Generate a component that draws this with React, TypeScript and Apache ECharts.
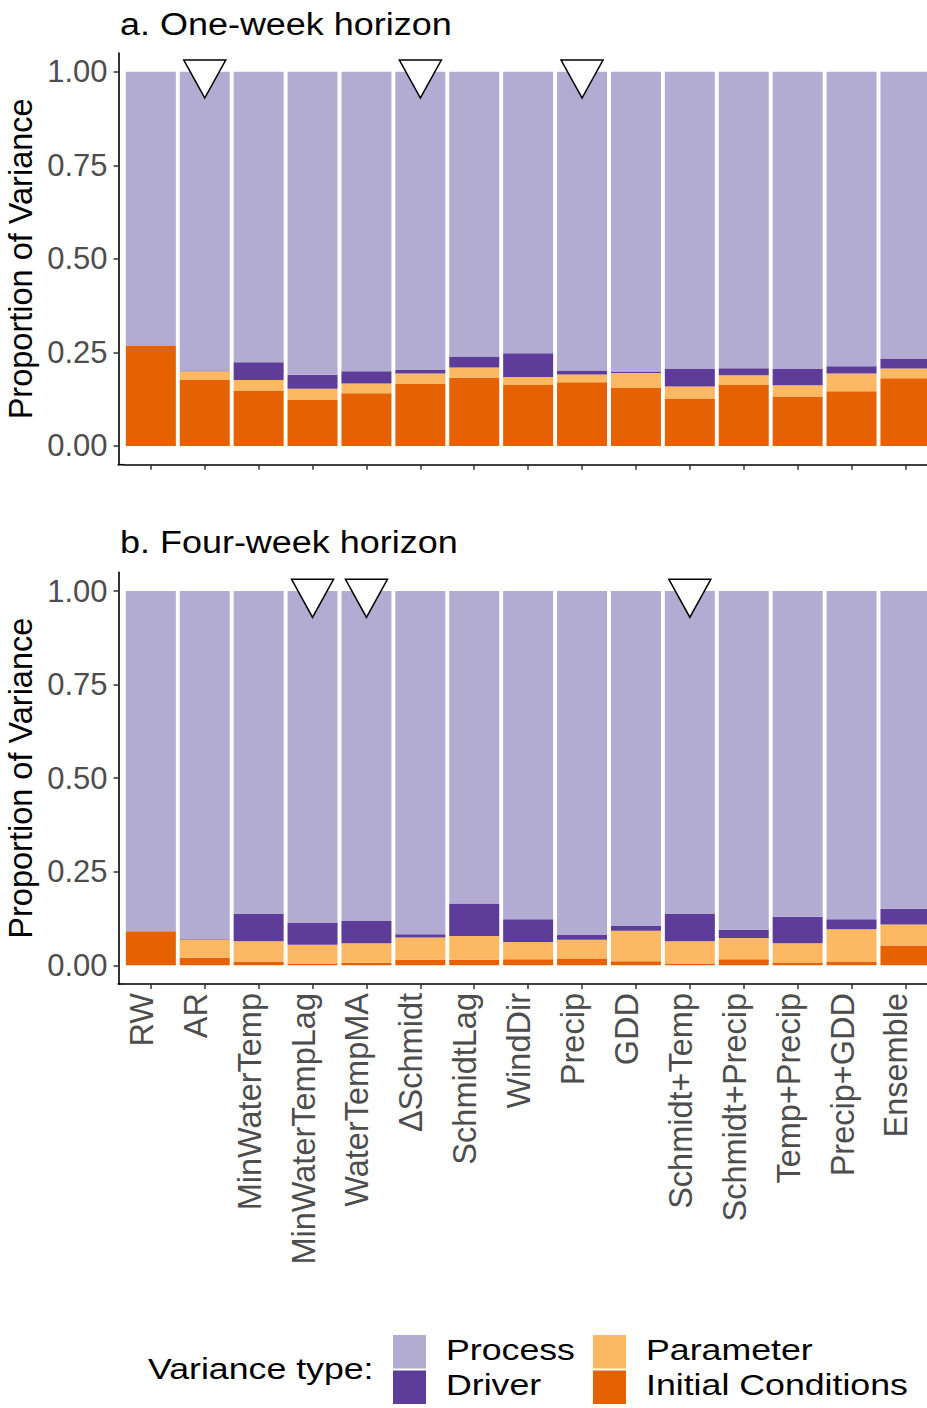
import React, { useEffect, useRef } from "react";
import * as echarts from "echarts";

const categories = [
  "RW", "AR", "MinWaterTemp", "MinWaterTempLag", "WaterTempMA", "ΔSchmidt", "SchmidtLag",
  "WindDir", "Precip", "GDD", "Schmidt+Temp", "Schmidt+Precip", "Temp+Precip", "Precip+GDD", "Ensemble",
];

// Panel a: one-week horizon
const icWeek1 = [0.267, 0.176, 0.148, 0.123, 0.141, 0.167, 0.182, 0.163, 0.170, 0.155, 0.127, 0.163, 0.132, 0.146, 0.181];
const paramWeek1 = [0, 0.024, 0.028, 0.030, 0.026, 0.027, 0.028, 0.021, 0.021, 0.040, 0.032, 0.026, 0.030, 0.048, 0.026];
const driverWeek1 = [0, 0.002, 0.048, 0.037, 0.033, 0.009, 0.029, 0.064, 0.011, 0.004, 0.047, 0.019, 0.044, 0.019, 0.027];
const processWeek1 = [0.733, 0.798, 0.776, 0.810, 0.800, 0.797, 0.761, 0.752, 0.798, 0.801, 0.794, 0.792, 0.794, 0.787, 0.766];
const bestWeek1 = ["AR", "ΔSchmidt", "Precip"];

// Panel b: four-week horizon
const icWeek4 = [0.091, 0.020, 0.009, 0.005, 0.007, 0.015, 0.015, 0.016, 0.018, 0.011, 0.005, 0.016, 0.006, 0.010, 0.053];
const paramWeek4 = [0, 0.049, 0.055, 0.050, 0.052, 0.059, 0.063, 0.046, 0.050, 0.081, 0.059, 0.057, 0.053, 0.086, 0.056];
const driverWeek4 = [0, 0.001, 0.073, 0.058, 0.059, 0.009, 0.087, 0.061, 0.013, 0.013, 0.073, 0.022, 0.071, 0.027, 0.042];
const processWeek4 = [0.909, 0.930, 0.863, 0.887, 0.882, 0.917, 0.835, 0.877, 0.919, 0.895, 0.863, 0.905, 0.870, 0.877, 0.849];
const bestWeek4 = ["MinWaterTempLag", "WaterTempMA", "Schmidt+Temp"];

const yTicks = [0, 0.25, 0.5, 0.75, 1];
const panelTitles = ["a. One-week horizon", "b. Four-week horizon"];
const varianceTypes = ["Process", "Driver", "Parameter", "Initial Conditions"];
const varianceColors = ["#b2abd2", "#5e3c99", "#fdb863", "#e66101"];

const FONT = '"Liberation Sans", Arial, Helvetica, sans-serif';

export default function App() {
  const ref = useRef<HTMLDivElement>(null);

  useEffect(() => {
    document.body.style.margin = "0";
    const chart = echarts.init(ref.current!, null, { renderer: "svg" });

    const panels = [
      { ic: icWeek1, param: paramWeek1, driver: driverWeek1, process: processWeek1, best: bestWeek1 },
      { ic: icWeek4, param: paramWeek4, driver: driverWeek4, process: processWeek4, best: bestWeek4 },
    ];
    const gridTops = [53, 572.3];
    const gridH = 411.7;
    const gridLeft = 123.9;
    const gridW = 808.5;
    const yOffset = 5.4;

    const grids = gridTops.map((top) => ({
      left: gridLeft, top, width: gridW, height: gridH,
      containLabel: false, outerBoundsMode: "none",
    }));

    const xAxes = panels.map((_, k) => ({
      gridIndex: k,
      type: "category",
      data: categories,
      axisLine: { show: true, onZero: false, lineStyle: { color: "#000", width: 1.6 } },
      axisTick: {
        show: true, alignWithLabel: true, interval: 0, length: 5,
        lineStyle: { color: "#333", width: 1.5 },
      },
      axisLabel: k === 0
        ? { show: false, interval: 0 }
        : {
            show: true, rotate: 90, interval: 0, fontSize: 32.5, color: "#4d4d4d",
            margin: 9, fontFamily: FONT, verticalAlign: "bottom", lineHeight: 18,
          },
      splitLine: { show: false },
    }));

    const yAxes = panels.map((_, k) => ({
      gridIndex: k,
      type: "value",
      min: -0.05,
      max: 1.05,
      offset: yOffset,
      axisLine: { show: true, lineStyle: { color: "#000", width: 1.6 } },
      axisTick: { show: true, length: 5, lineStyle: { color: "#333", width: 1.5 }, customValues: yTicks },
      axisLabel: {
        customValues: yTicks,
        formatter: (v: number) => v.toFixed(2),
        fontSize: 31, color: "#4d4d4d", margin: 11, fontFamily: FONT,
      },
      splitLine: { show: false },
      name: "Proportion of Variance",
      nameLocation: "middle",
      nameRotate: 90,
      nameGap: 81,
      nameMoveOverlap: false,
      nameTextStyle: { fontSize: 32.5, color: "#000", fontFamily: FONT },
    }));

    const series: any[] = [];
    panels.forEach((p, k) => {
      const layers = [
        { name: "Initial Conditions", data: p.ic, color: varianceColors[3] },
        { name: "Parameter", data: p.param, color: varianceColors[2] },
        { name: "Driver", data: p.driver, color: varianceColors[1] },
        { name: "Process", data: p.process, color: varianceColors[0] },
      ];
      layers.forEach((l) => {
        series.push({
          type: "bar",
          name: l.name,
          xAxisIndex: k,
          yAxisIndex: k,
          stack: "panel" + k,
          barWidth: 50,
          data: l.data,
          itemStyle: { color: l.color },
          silent: true,
        });
      });
      series.push({
        type: "scatter",
        name: "best" + k,
        xAxisIndex: k,
        yAxisIndex: k,
        data: p.best.map((c) => [c, 1]),
        symbol: "path://M0,0L42,0L21,38Z",
        symbolSize: [42, 38],
        symbolOffset: [0, 7.3],
        itemStyle: { color: "#ffffff", borderColor: "#000", borderWidth: 1.5, opacity: 1 },
        z: 10,
        silent: true,
      });
    });

    const axisBottoms = gridTops.map((t) => t + gridH);
    const graphic: any[] = [];
    // extend x axis lines to meet the offset y axis
    axisBottoms.forEach((yb) => {
      graphic.push({
        type: "line",
        shape: { x1: gridLeft - yOffset - 0.8, y1: yb, x2: gridLeft, y2: yb },
        style: { stroke: "#000", lineWidth: 1.6 },
      });
    });
    // panel titles
    const titleYs = [24.7, 542.5];
    panelTitles.forEach((t, i) => {
      graphic.push({
        type: "text", x: 120, y: titleYs[i], scaleX: 1.16,
        style: { text: t, fontSize: 31, fontFamily: FONT, fill: "#000", align: "left", verticalAlign: "middle" },
      });
    });
    // legend
    graphic.push({
      type: "text", x: 148, y: 1369, scaleX: 1.19,
      style: { text: "Variance type:", fontSize: 30, fontFamily: FONT, fill: "#000", align: "left", verticalAlign: "middle" },
    });
    const keyX = [393, 393, 593, 593];
    const keyY = [1335, 1370.5, 1335, 1370.5];
    const textX = [446, 446, 646, 646];
    const textY = [1350, 1385, 1350, 1385];
    varianceTypes.forEach((name, i) => {
      graphic.push({
        type: "rect",
        shape: { x: keyX[i], y: keyY[i], width: 33, height: 33.5 },
        style: { fill: varianceColors[i] },
      });
      graphic.push({
        type: "text", x: textX[i], y: textY[i], scaleX: 1.19,
        style: { text: name, fontSize: 30, fontFamily: FONT, fill: "#000", align: "left", verticalAlign: "middle" },
      });
    });

    chart.setOption({
      animation: false,
      backgroundColor: "#ffffff",
      textStyle: { fontFamily: FONT },
      grid: grids,
      xAxis: xAxes,
      yAxis: yAxes,
      series,
      graphic,
    } as any);

    return () => chart.dispose();
  }, []);

  return (
    <div
      ref={ref}
      style={{ width: 927, height: 1408, position: "absolute", left: 0, top: 0 }}
    />
  );
}
